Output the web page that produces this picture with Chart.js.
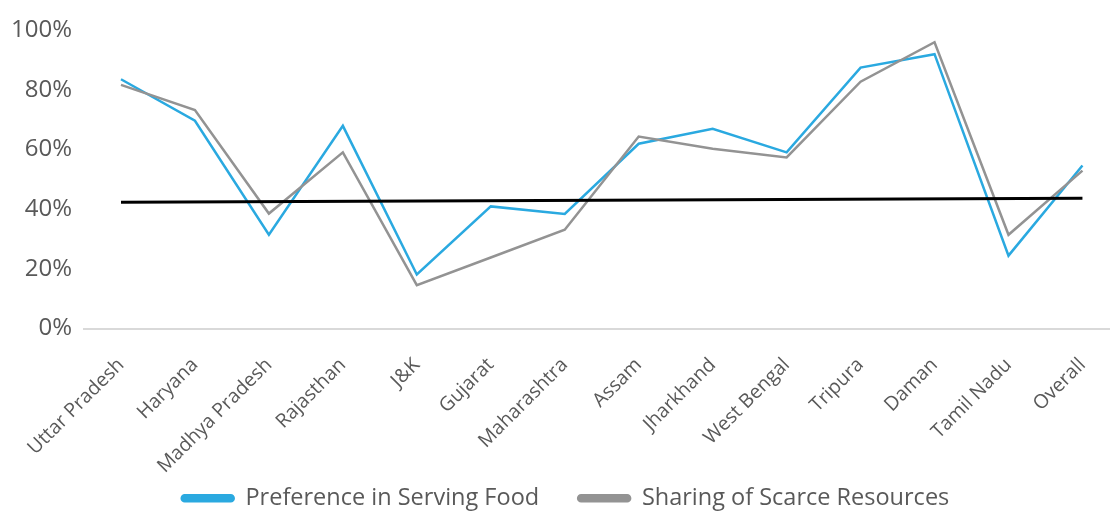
<!DOCTYPE html>
<html>
<head>
<meta charset="utf-8">
<script src="https://cdn.jsdelivr.net/npm/chart.js@4.4.1/dist/chart.umd.min.js"></script>
<style>
  html, body { margin: 0; padding: 0; background: #ffffff; overflow: hidden; }
  #wrap { position: absolute; left: 0; top: 0; width: 1124px; height: 520px; }
</style>
</head>
<body>
<div id="wrap"><canvas id="chart"></canvas></div>
<script>
// Categories (states plus the overall figure)
const categories = [
  'Uttar Pradesh', 'Haryana', 'Madhya Pradesh', 'Rajasthan', 'J&K', 'Gujarat',
  'Maharashtra', 'Assam', 'Jharkhand', 'West Bengal', 'Tripura', 'Daman',
  'Tamil Nadu', 'Overall'
];

// Share of respondents, in percent
const preferenceServingFood = [83.5, 69.6, 31.4, 67.9, 18.1, 40.9, 38.4, 61.9, 66.9, 59.0, 87.4, 91.9, 24.4, 54.6];
const sharingScarceResources = [81.6, 73.2, 38.5, 59.0, 14.5, 23.8, 33.1, 64.3, 60.2, 57.3, 82.7, 95.9, 31.4, 52.9];

// Reference line: start and end levels, open in between
const referenceLine = [42.3, null, null, null, null, null, null, null, null, null, null, null, null, 43.6];

// Value-axis ticks
const yTicks = [0, 20, 40, 60, 80, 100];

const textColor = '#595959';
const fontFamily = "'Open Sans', 'DejaVu Sans', sans-serif";

new Chart(document.getElementById('chart'), {
  type: 'line',
  data: {
    labels: categories,
    datasets: [
      {
        label: 'Preference in Serving Food',
        data: preferenceServingFood,
        borderColor: '#2AA9E0',
        backgroundColor: '#2AA9E0',
        borderWidth: 2.5,
        pointRadius: 0,
        tension: 0,
        order: 3
      },
      {
        label: 'Sharing of Scarce Resources',
        data: sharingScarceResources,
        borderColor: '#939393',
        backgroundColor: '#939393',
        borderWidth: 2.5,
        pointRadius: 0,
        tension: 0,
        order: 2
      },
      {
        label: 'reference',
        data: referenceLine,
        borderColor: '#000000',
        backgroundColor: '#000000',
        borderWidth: 3,
        pointRadius: 0,
        spanGaps: true,
        tension: 0,
        order: 1
      }
    ]
  },
  options: {
    responsive: true,
    maintainAspectRatio: false,
    animation: false,
    layout: { padding: { top: 30, left: 7, right: 0, bottom: 0 } },
    plugins: {
      tooltip: { enabled: false },
      legend: {
        position: 'bottom',
        labels: {
          filter: (item) => item.datasetIndex < 2,
          sort: (a, b) => a.datasetIndex - b.datasetIndex,
          color: textColor,
          font: { family: fontFamily, size: 23.5 },
          boxWidth: 52,
          boxHeight: 6,
          useBorderRadius: true,
          borderRadius: 3,
          padding: 39
        }
      }
    },
    scales: {
      x: {
        offset: true,
        grid: { display: false, drawTicks: false },
        border: { display: true, color: '#D9D9D9', width: 2 },
        ticks: {
          color: textColor,
          font: { family: fontFamily, size: 19.5 },
          minRotation: 45,
          maxRotation: 45,
          autoSkip: false,
          padding: 25
        },
        afterFit: (scale) => {
          scale.height = 119;
          // long rotated labels may run below the axis box, so keep them unclipped
          scale._computeLabelArea = () => null;
        }
      },
      y: {
        min: 0,
        max: 100,
        grid: { display: false, drawTicks: false },
        border: { display: false },
        afterBuildTicks: (scale) => { scale.ticks = yTicks.map(v => ({ value: v })); },
        ticks: {
          color: textColor,
          font: { family: fontFamily, size: 24 },
          padding: 12,
          callback: (v) => v + '%'
        },
        afterFit: (scale) => { scale.width = 77; }
      }
    }
  }
});
</script>
</body>
</html>
